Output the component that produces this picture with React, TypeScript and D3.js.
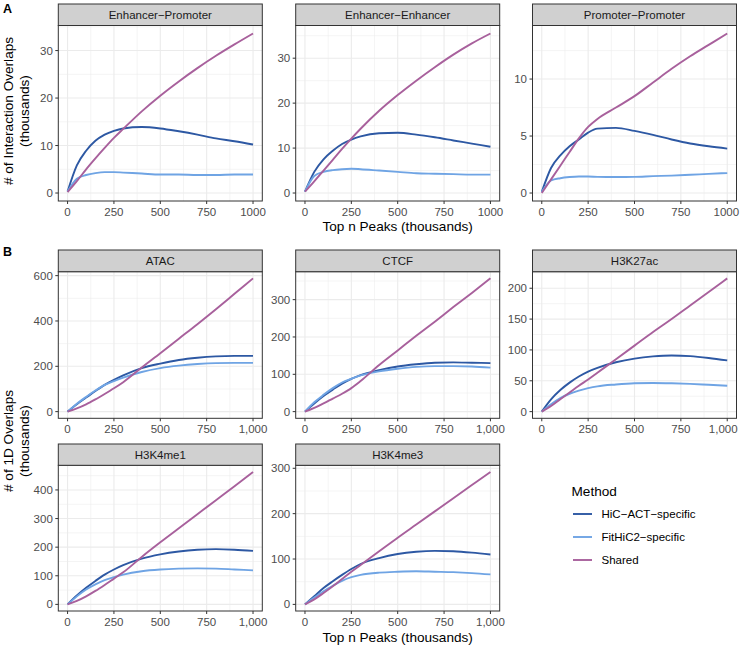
import React from "react";
import * as d3 from "d3";

// ---------- data ----------
const peaks = [0, 50, 100, 150, 200, 250, 300, 400, 500, 600, 700, 800, 900, 1000];
const methods = ["HiC\u2212ACT\u2212specific", "FitHiC2\u2212specific", "Shared"];
const methodColors = ["#2d58a3", "#6fa4e4", "#a8609c"];

const epHicact = [0.3, 5.8, 8.9, 11.0, 12.3, 13.1, 13.6, 13.9, 13.6, 13.0, 12.3, 11.5, 10.9, 10.2];
const epFithic = [0.3, 3.0, 3.8, 4.2, 4.4, 4.4, 4.3, 4.1, 3.9, 3.9, 3.8, 3.8, 3.9, 3.9];
const epShared = [0.2, 2.5, 5.0, 7.3, 9.5, 11.6, 13.5, 17.2, 20.5, 23.5, 26.3, 28.9, 31.3, 33.6];

const eeHicact = [0.3, 4.7, 7.5, 9.4, 10.9, 11.9, 12.6, 13.3, 13.4, 13.0, 12.4, 11.7, 11.0, 10.3];
const eeFithic = [0.3, 3.8, 4.7, 5.1, 5.3, 5.4, 5.3, 5.0, 4.7, 4.4, 4.3, 4.2, 4.1, 4.1];
const eeShared = [0.3, 2.6, 5.0, 7.4, 9.8, 12.1, 14.3, 18.3, 21.8, 25.0, 28.0, 30.8, 33.3, 35.5];

const ppHicact = [0.1, 2.2, 3.3, 4.1, 4.7, 5.3, 5.65, 5.72, 5.45, 5.1, 4.7, 4.35, 4.1, 3.9];
const ppFithic = [0.1, 1.1, 1.3, 1.4, 1.45, 1.45, 1.42, 1.4, 1.42, 1.48, 1.53, 1.6, 1.68, 1.75];
const ppShared = [0, 1.2, 2.4, 3.6, 4.8, 5.8, 6.5, 7.5, 8.5, 9.7, 10.9, 12.0, 13.0, 14.0];

const atacHicact = [0, 33, 62, 91, 118, 140, 160, 192, 212, 228, 238, 244, 246, 246];
const atacFithic = [0, 35, 65, 93, 118, 135, 150, 175, 192, 203, 210, 214, 215, 215];
const atacShared = [0, 14, 32, 54, 78, 103, 130, 195, 258, 322, 386, 452, 520, 588];

const ctcfHicact = [0, 22, 42, 59, 75, 88, 98, 111, 121, 127, 131, 132, 131, 130];
const ctcfFithic = [0, 25, 45, 63, 78, 88, 97, 108, 115, 120, 122, 122, 121, 118];
const ctcfShared = [0, 10, 22, 35, 48, 63, 82, 125, 164, 203, 241, 280, 318, 357];

const k27Hicact = [0, 20, 35, 47, 57, 65, 71, 80, 86, 89.5, 91, 90, 87, 83];
const k27Fithic = [0, 12, 22, 29, 34, 38, 41, 44, 46, 46.5, 46, 45, 43.5, 42];
const k27Shared = [0, 9, 20, 31, 42, 52, 63, 85, 107, 129, 150, 172, 194, 216];

const me1Hicact = [0, 31, 58, 82, 104, 122, 137, 160, 175, 185, 191, 193, 191, 187];
const me1Fithic = [0, 28, 52, 70, 85, 95, 104, 116, 122, 125, 126, 125, 122, 119];
const me1Shared = [0, 12, 28, 47, 68, 90, 112, 166, 217, 266, 315, 364, 413, 463];

const me3Hicact = [0, 18, 36, 51, 65, 78, 89, 102, 111, 116, 118, 117, 114, 110];
const me3Fithic = [0, 15, 29, 41, 52, 60, 65, 70, 72, 73, 72, 71, 69, 66];
const me3Shared = [0, 11, 25, 40, 56, 72, 87, 117, 147, 176, 205, 234, 263, 292];

const xTicks = [0, 250, 500, 750, 1000];
const xMinor = [125, 375, 625, 875];

const epTicks = [0, 10, 20, 30];
const eeTicks = [0, 10, 20, 30];
const ppTicks = [0, 5, 10];
const atacTicks = [0, 200, 400, 600];
const ctcfTicks = [0, 100, 200, 300];
const k27Ticks = [0, 50, 100, 150, 200];
const me1Ticks = [0, 100, 200, 300, 400];
const me3Ticks = [0, 100, 200, 300];

const panelDefs = [
  { title: "Enhancer\u2212Promoter", row: 0, col: 0, ticks: epTicks, series: [epHicact, epFithic, epShared] },
  { title: "Enhancer\u2212Enhancer", row: 0, col: 1, ticks: eeTicks, series: [eeHicact, eeFithic, eeShared] },
  { title: "Promoter\u2212Promoter", row: 0, col: 2, ticks: ppTicks, series: [ppHicact, ppFithic, ppShared] },
  { title: "ATAC", row: 1, col: 0, ticks: atacTicks, series: [atacHicact, atacFithic, atacShared] },
  { title: "CTCF", row: 1, col: 1, ticks: ctcfTicks, series: [ctcfHicact, ctcfFithic, ctcfShared] },
  { title: "H3K27ac", row: 1, col: 2, ticks: k27Ticks, series: [k27Hicact, k27Fithic, k27Shared] },
  { title: "H3K4me1", row: 2, col: 0, ticks: me1Ticks, series: [me1Hicact, me1Fithic, me1Shared] },
  { title: "H3K4me3", row: 2, col: 1, ticks: me3Ticks, series: [me3Hicact, me3Fithic, me3Shared] },
];

// ---------- layout ----------
const W = 740;
const H = 646;
const colLeft = [58.3, 295.7, 532.5];
const panelW = 204;
const rows = [
  { stripTop: 4, top: 25.5, bottom: 201 },
  { stripTop: 250, top: 271.7, bottom: 418.3 },
  { stripTop: 444, top: 465.3, bottom: 611 },
];
const FONT = "'Liberation Sans', Arial, Helvetica, sans-serif";
const tickFs = 11.5;

function Panel({ def }: { def: any }) {
  const r = rows[def.row];
  const left = colLeft[def.col];
  const right = left + panelW;
  const x = d3.scaleLinear().domain([-50, 1050]).range([left, right]);
  const maxV = d3.max(def.series.flat() as number[]) as number;
  const y = d3.scaleLinear().domain([-0.05 * maxV, 1.05 * maxV]).range([r.bottom, r.top]);
  const step = def.ticks[1] - def.ticks[0];
  const yMinor: number[] = [];
  for (let v = def.ticks[0] - step / 2; v <= 1.05 * maxV; v += step) {
    if (v >= -0.05 * maxV) yMinor.push(v);
  }
  const line = d3
    .line<number>()
    .x((_, i) => x(peaks[i]))
    .y((v) => y(v))
    .curve(d3.curveMonotoneX);
  const fmt = def.row === 0 ? (v: number) => String(v) : d3.format(",");
  return (
    <g>
      <rect x={left} y={r.top} width={panelW} height={r.bottom - r.top} fill="#ffffff" />
      {xMinor.map((v) => (
        <line key={"xm" + v} x1={x(v)} x2={x(v)} y1={r.top} y2={r.bottom} stroke="#ebebeb" strokeWidth={0.55} />
      ))}
      {yMinor.map((v) => (
        <line key={"ym" + v} x1={left} x2={right} y1={y(v)} y2={y(v)} stroke="#ebebeb" strokeWidth={0.55} />
      ))}
      {xTicks.map((v) => (
        <line key={"xg" + v} x1={x(v)} x2={x(v)} y1={r.top} y2={r.bottom} stroke="#ebebeb" strokeWidth={1.1} />
      ))}
      {def.ticks.map((v: number) => (
        <line key={"yg" + v} x1={left} x2={right} y1={y(v)} y2={y(v)} stroke="#ebebeb" strokeWidth={1.1} />
      ))}
      {def.series.map((s: number[], i: number) => (
        <path key={"s" + i} d={line(s) || ""} fill="none" stroke={methodColors[i]} strokeWidth={1.9} strokeLinejoin="round" />
      ))}
      <rect x={left} y={r.top} width={panelW} height={r.bottom - r.top} fill="none" stroke="#333333" strokeWidth={1} />
      <rect x={left} y={r.stripTop} width={panelW} height={r.top - r.stripTop} fill="#d0d0d0" stroke="#333333" strokeWidth={1} />
      <text x={(left + right) / 2} y={(r.stripTop + r.top) / 2 + 4} textAnchor="middle" fontSize={tickFs} fill="#1a1a1a" fontFamily={FONT}>
        {def.title}
      </text>
      {xTicks.map((v) => {
        const label = fmt(v);
        const half = (label.length * 0.53 * tickFs) / 2;
        const tx = Math.min(x(v), W - 1.5 - half);
        return (
          <g key={"xt" + v}>
            <line x1={x(v)} x2={x(v)} y1={r.bottom} y2={r.bottom + 3} stroke="#333333" strokeWidth={1} />
            <text x={tx} y={r.bottom + 15} textAnchor="middle" fontSize={tickFs} fill="#4d4d4d" fontFamily={FONT}>
              {label}
            </text>
          </g>
        );
      })}
      {def.ticks.map((v: number) => (
        <g key={"yt" + v}>
          <line x1={left - 3} x2={left} y1={y(v)} y2={y(v)} stroke="#333333" strokeWidth={1} />
          <text x={left - 5.5} y={y(v) + 4} textAnchor="end" fontSize={tickFs} fill="#4d4d4d" fontFamily={FONT}>
            {v}
          </text>
        </g>
      ))}
    </g>
  );
}

export default function App() {
  const midX = colLeft[1] + panelW / 2;
  const titleFs = 13.6;
  const legX = 573;
  const legY = [514, 537, 560];
  return (
    <svg width={W} height={H} style={{ display: "block", position: "absolute", left: 0, top: 0 }} fontFamily={FONT}>
      <rect width={W} height={H} fill="#ffffff" />
      <text x={3} y={12.5} fontSize={12.5} fontWeight="bold" fill="#000">A</text>
      <text x={3} y={256} fontSize={12.5} fontWeight="bold" fill="#000">B</text>
      {panelDefs.map((p) => (
        <Panel key={p.title} def={p} />
      ))}
      <text x={midX} y={231} textAnchor="middle" fontSize={titleFs} fill="#000">Top n Peaks (thousands)</text>
      <text x={midX} y={642} textAnchor="middle" fontSize={titleFs} fill="#000">Top n Peaks (thousands)</text>
      <g transform={`translate(12.5,111) rotate(-90)`}>
        <text x={0} y={0} textAnchor="middle" fontSize={titleFs} fill="#000"># of Interaction Overlaps</text>
        <text x={0} y={16.5} textAnchor="middle" fontSize={titleFs} fill="#000">(thousands)</text>
      </g>
      <g transform={`translate(12.5,441) rotate(-90)`}>
        <text x={0} y={0} textAnchor="middle" fontSize={titleFs} fill="#000"># of 1D Overlaps</text>
        <text x={0} y={16.5} textAnchor="middle" fontSize={titleFs} fill="#000">(thousands)</text>
      </g>
      <text x={571.5} y={495.5} fontSize={titleFs} fill="#000">Method</text>
      {methods.map((m, i) => (
        <g key={m}>
          <line x1={legX} x2={legX + 19} y1={legY[i]} y2={legY[i]} stroke={methodColors[i]} strokeWidth={1.9} />
          <text x={601.5} y={legY[i] + 4} fontSize={tickFs} fill="#000">{m}</text>
        </g>
      ))}
    </svg>
  );
}
